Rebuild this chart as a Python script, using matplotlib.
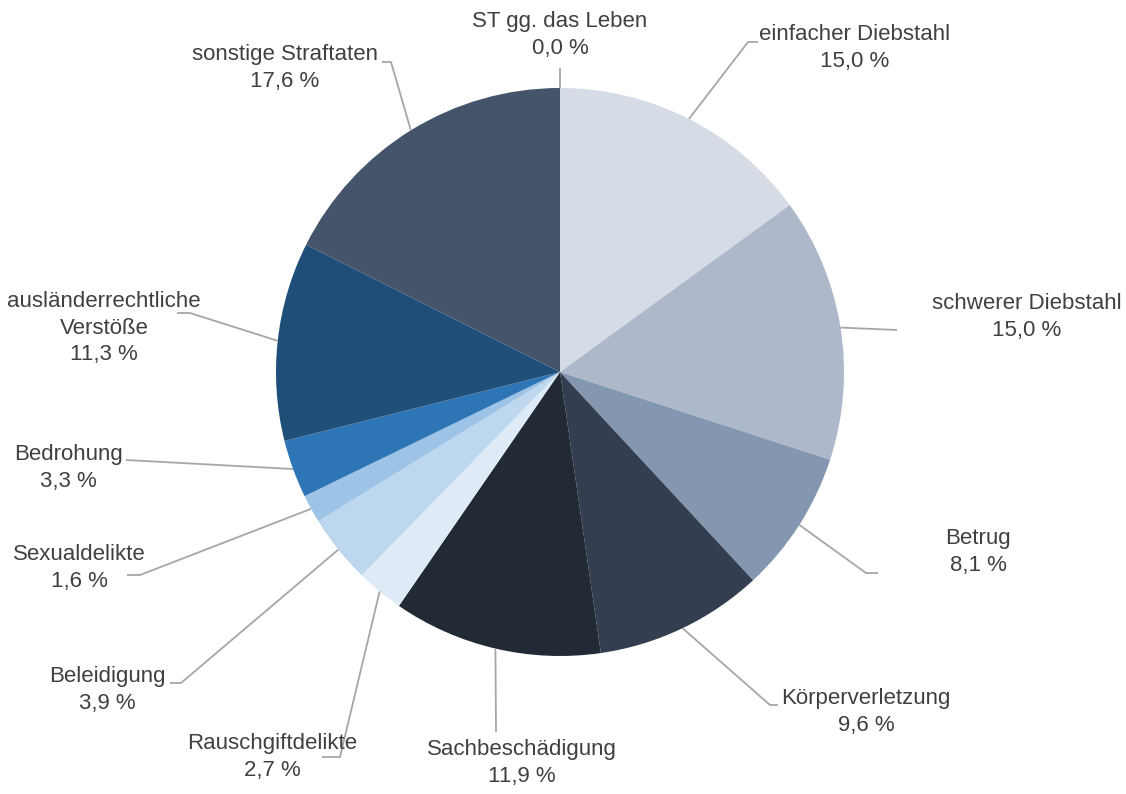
import numpy as np
import matplotlib.pyplot as plt

labels = ["ST gg. das Leben", "einfacher Diebstahl", "schwerer Diebstahl", "Betrug",
          "Körperverletzung", "Sachbeschädigung", "Rauschgiftdelikte", "Beleidigung",
          "Sexualdelikte", "Bedrohung", "ausländerrechtliche\nVerstöße", "sonstige Straftaten"]
shares = [0.0, 15.0, 15.0, 8.1, 9.6, 11.9, 2.7, 3.9, 1.6, 3.3, 11.3, 17.6]
colors = ["#44546A", "#D6DCE5", "#ADB9CA", "#8497B0", "#333F50", "#222A35", "#DEEBF7",
          "#BDD7EE", "#9DC3E6", "#2E75B6", "#1F4E79", "#44546A"]

# label layout in pixels (text centre, leader elbow, leader end)
text_pos = [(560, 35), (855, 48), (1027, 317), (978, 552), (866, 712), (522, 763),
            (272, 757), (107, 690), (79, 568), (68, 468), (104, 328), (285, 68)]
elbows = [None, (748, 42), None, (866, 573), (770, 705), None,
          (340, 757), (181, 683), (140, 575), None, (190, 313), (391, 62)]
ends = [(560, 68), (758, 42), (897, 330), (878, 573), (778, 705), (496, 732),
        (322, 757), (170, 683), (127, 575), (126, 460), (177, 313), (382, 62)]

W, H = 1126, 794
cx, cy, r = 560, 372, 284

plt.rcParams['font.family'] = ['Liberation Sans Narrow', 'Liberation Sans', 'DejaVu Sans']

fig = plt.figure(figsize=(W / 100, H / 100), dpi=100)
ax = fig.add_axes([0, 0, 1, 1])
ax.axis('off')

wedges, _ = ax.pie(shares, colors=colors, startangle=90, counterclock=False,
                   center=(cx, H - cy), radius=r, wedgeprops=dict(linewidth=0))
ax.set_xlim(0, W)
ax.set_ylim(0, H)
ax.set_aspect('equal')

for i, w in enumerate(wedges):
    mid = np.deg2rad((w.theta1 + w.theta2) / 2)
    pts = [(cx + r * np.cos(mid), H - cy + r * np.sin(mid))]
    if elbows[i] is not None:
        pts.append((elbows[i][0], H - elbows[i][1]))
    pts.append((ends[i][0], H - ends[i][1]))
    xs, ys = zip(*pts)
    ax.plot(xs, ys, color="#A6A6A6", lw=1.3, solid_capstyle='butt')
    pct = "{0:.1f} %".format(shares[i]).replace(".", ",")
    ax.text(text_pos[i][0], H - text_pos[i][1], labels[i] + "\n" + pct,
            ha='center', va='center', fontsize=16, color="#404040", linespacing=1.33)

fig.savefig("out.png", dpi=100)
